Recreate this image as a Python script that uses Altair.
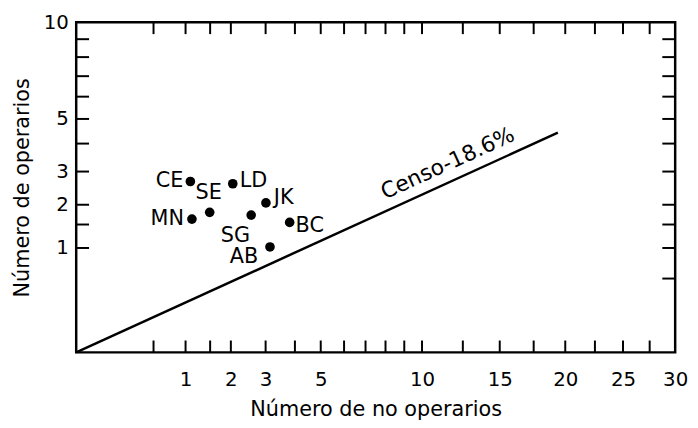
import math
import altair as alt
import pandas as pd

# ---- data ----
codes = ["CE", "MN", "SE", "LD", "JK", "SG", "BC", "AB"]
no_operarios = [1.09, 1.12, 1.49, 2.05, 3.01, 2.56, 3.81, 3.14]
operarios = [2.68, 1.63, 1.80, 2.61, 2.05, 1.73, 1.55, 1.02]

censo_x = [0, 19.4]
censo_y = [0, 4.43]
censo_label = "Censo-18.6%"
censo_label_at = 12.0

x_labels = [1, 2, 3, 5, 10, 15, 20, 25, 30]
y_labels = [1, 2, 3, 5, 10]
x_ticks = [0.5, 1, 1.5, 2, 3, 4, 5, 6, 7, 8, 9, 10, 12.5, 15, 17.5, 20, 22.5, 25, 27.5]
y_ticks_left = [1, 1.5, 2, 3, 4, 5, 6, 7, 8, 9]
y_ticks_right = [0.5, 1, 1.5, 2, 3, 4, 5, 6, 7, 8, 9]

x_title = "Número de no operarios"
y_title = "Número de operarios"

# ---- styling ----
W, H = 606, 334
FONT = "DejaVu Sans"
TICK = 12
X_MAX, Y_MAX = 30, 10

label_style = {
    "CE": dict(align="right", dx=-7, dy=0),
    "MN": dict(align="right", dx=-8, dy=0),
    "SE": dict(align="center", dx=-1, dy=-19),
    "LD": dict(align="left", dx=7, dy=-3),
    "JK": dict(align="left", dx=8, dy=-5),
    "SG": dict(align="center", dx=-16, dy=21),
    "BC": dict(align="left", dx=6, dy=4),
    "AB": dict(align="right", dx=-12, dy=10),
}

xs = alt.Scale(type="sqrt", domain=[0, X_MAX], nice=False, zero=True)
ys = alt.Scale(type="sqrt", domain=[0, Y_MAX], nice=False, zero=True)

x_axis = alt.Axis(values=x_labels, tickSize=0, domain=False, grid=False,
                  labelFlush=False, labelPadding=18, labelFontSize=20,
                  titleFontSize=21, titlePadding=9, labelFont=FONT,
                  titleFont=FONT, titleFontWeight="normal",
                  labelColor="black", titleColor="black")
y_axis = alt.Axis(values=y_labels, tickSize=0, domain=False, grid=False,
                  labelPadding=8, labelFontSize=20, titleFontSize=21,
                  titlePadding=11, labelFont=FONT, titleFont=FONT,
                  titleFontWeight="normal", labelColor="black",
                  titleColor="black")


def X(field):
    return alt.X(f"{field}:Q", scale=xs, title=x_title, axis=x_axis)


def Y(field):
    return alt.Y(f"{field}:Q", scale=ys, title=y_title, axis=y_axis)


pts = pd.DataFrame({"code": codes, "x": no_operarios, "y": operarios})
line_df = pd.DataFrame({"x": censo_x, "y": censo_y})
slope = censo_y[1] / censo_x[1]
lab_df = pd.DataFrame({"x": [censo_label_at], "y": [censo_label_at * slope], "t": [censo_label]})

dx_px = math.sqrt(censo_x[1] / X_MAX) * W
dy_px = math.sqrt(censo_y[1] / Y_MAX) * H
angle = 360 - math.degrees(math.atan2(dy_px, dx_px))

points = alt.Chart(pts).mark_circle(size=95, color="black", opacity=1).encode(
    x=X("x"), y=Y("y"))

text_layers = []
for c in codes:
    st = label_style[c]
    text_layers.append(
        alt.Chart(pts).transform_filter(alt.datum.code == c).mark_text(
            font=FONT, fontSize=21, color="black", baseline="middle", **st
        ).encode(x=X("x"), y=Y("y"), text="code:N")
    )

censo_line = alt.Chart(line_df).mark_line(color="black", strokeWidth=2.5).encode(
    x=X("x"), y=Y("y"))

censo_text = alt.Chart(lab_df).mark_text(
    font=FONT, fontSize=22, color="black", angle=angle, align="center",
    baseline="middle", dy=-18
).encode(x=X("x"), y=Y("y"), text="t:N")

xt = pd.DataFrame({"x": x_ticks})
ytl = pd.DataFrame({"y": y_ticks_left})
ytr = pd.DataFrame({"y": y_ticks_right})
rule = dict(color="black", strokeWidth=2)
bottom_ticks = alt.Chart(xt).mark_rule(**rule).encode(
    x=X("x"), y=alt.value(H), y2=alt.value(H - TICK))
top_ticks = alt.Chart(xt).mark_rule(**rule).encode(
    x=X("x"), y=alt.value(0), y2=alt.value(TICK))
left_ticks = alt.Chart(ytl).mark_rule(**rule).encode(
    y=Y("y"), x=alt.value(0), x2=alt.value(TICK + 1))
right_ticks = alt.Chart(ytr).mark_rule(**rule).encode(
    y=Y("y"), x=alt.value(W), x2=alt.value(W - TICK - 1))

chart = alt.layer(
    points, censo_line, censo_text, bottom_ticks, top_ticks, left_ticks, right_ticks,
    *text_layers
).properties(
    width=W, height=H,
    autosize=alt.AutoSizeParams(type="none"),
    padding={"left": 69, "top": 12, "right": 15, "bottom": 66},
    background="white",
).configure_view(stroke="black", strokeWidth=2.5)

chart.save("out.html", embed_options={"renderer": "svg", "actions": False})
